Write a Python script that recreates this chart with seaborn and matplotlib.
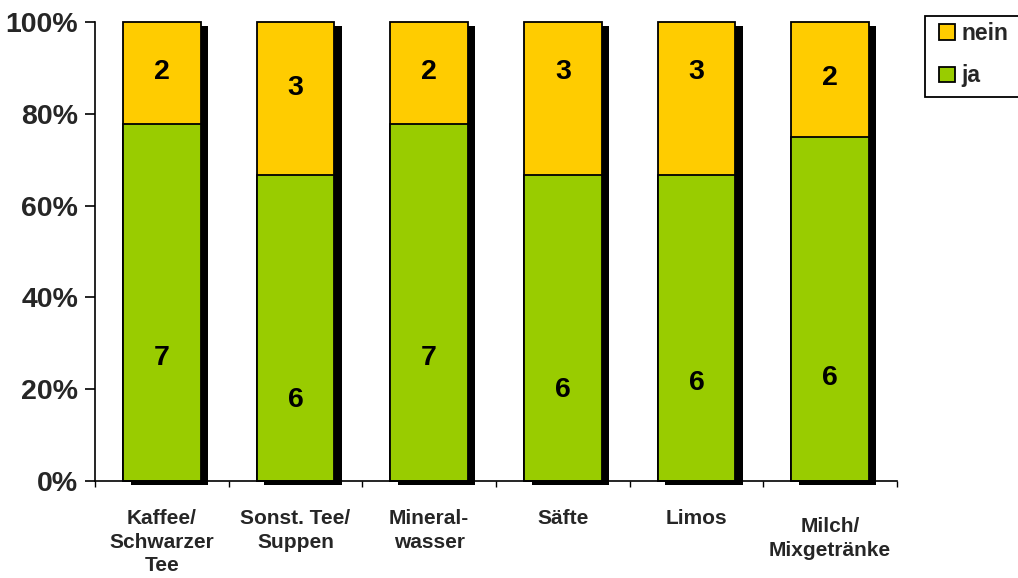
import matplotlib
matplotlib.use("Agg")
import matplotlib.pyplot as plt
import matplotlib.transforms as mtransforms
from matplotlib.patches import Patch, Rectangle
import seaborn as sns
import pandas as pd

categories = ["Kaffee/\nSchwarzer\nTee", "Sonst. Tee/\nSuppen", "Mineral-\nwasser",
              "Säfte", "Limos", "Milch/\nMixgetränke"]
ja = [7, 6, 7, 6, 6, 6]
nein = [2, 3, 2, 3, 3, 2]
yticks = [0, 20, 40, 60, 80, 100]
ytick_labels = ["0%", "20%", "40%", "60%", "80%", "100%"]

# label placement (percent heights)
ja_label_pos = [26.8, 17.6, 26.8, 19.8, 21.4, 22.4]
nein_label_pos = [89.1, 85.6, 89.1, 89.1, 89.1, 87.8]

GREEN = "#99CC00"
YELLOW = "#FFCC00"

sns.set_theme(style="white")
plt.rcParams["font.family"] = ["Liberation Sans", "DejaVu Sans"]
plt.rcParams["font.weight"] = "bold"

totals = [a + b for a, b in zip(ja, nein)]
df = pd.DataFrame({
    "cat": categories,
    "ja_pct": [a / t * 100 for a, t in zip(ja, totals)],
    "total_pct": [100.0] * len(categories),
})

fig = plt.figure(figsize=(10.18, 5.78), dpi=100)
ax = fig.add_axes([95 / 1018, 1 - 481 / 578, (897 - 95) / 1018, (481 - 22) / 578])

W = 0.58
# shadow
sns.barplot(data=df, x="cat", y="total_pct", color="black", width=W, ax=ax,
            saturation=1, edgecolor="black", linewidth=0)
shadow_patches = list(ax.patches)
off = mtransforms.ScaledTranslation(7.5 / 100, -3.5 / 100, fig.dpi_scale_trans)
for p in shadow_patches:
    p.set_transform(ax.transData + off)
    p.set_clip_on(False)
    p.set_zorder(1)
# yellow (nein) full-height
sns.barplot(data=df, x="cat", y="total_pct", color=YELLOW, width=W, ax=ax,
            saturation=1, edgecolor="black", linewidth=1.3)
# green (ja)
sns.barplot(data=df, x="cat", y="ja_pct", color=GREEN, width=W, ax=ax,
            saturation=1, edgecolor="black", linewidth=1.3)
for p in ax.patches[len(shadow_patches):]:
    p.set_zorder(2)
    p.set_clip_on(False)

for i in range(len(categories)):
    ax.text(i, ja_label_pos[i], str(ja[i]), ha="center", va="center",
            fontsize=20.5, fontweight="bold", color="black", zorder=5)
    ax.text(i, nein_label_pos[i], str(nein[i]), ha="center", va="center",
            fontsize=20.5, fontweight="bold", color="black", zorder=5)

ax.set_xlim(-0.5, len(categories) - 0.5)
ax.set_ylim(0, 100)
ax.set_yticks(yticks)
ax.set_yticklabels(ytick_labels, fontsize=20.5, fontweight="bold")
ax.set_xticks(range(len(categories)))
ax.set_xticklabels(categories, fontsize=15, fontweight="bold", linespacing=1.32, va="top")
ax.set_xlabel("")
ax.set_ylabel("")

ax.set_xticks([i - 0.5 for i in range(len(categories) + 1)], minor=True)
ax.tick_params(axis="x", which="major", length=0, pad=20)
ax.tick_params(axis="x", which="minor", length=4, width=1, direction="out", color="black", bottom=True)
ax.tick_params(axis="y", length=7, width=1.2, direction="out", color="black", left=True, pad=5)

for s in ["top", "right"]:
    ax.spines[s].set_visible(False)
for s in ["left", "bottom"]:
    ax.spines[s].set_color("black")
    ax.spines[s].set_linewidth(1.2)
ax.spines["left"].set_zorder(0.5)
ax.grid(False)

# last label sits a bit lower in the reference
lbl = ax.get_xticklabels()[-1]
lbl.set_transform(lbl.get_transform() + mtransforms.ScaledTranslation(0, -8 / 100, fig.dpi_scale_trans))

# legend box (extends past the right edge as in the reference)
fig.patches.append(Rectangle((925 / 1018, 1 - 97 / 578), 110 / 1018, 81 / 578,
                             transform=fig.transFigure, facecolor="white",
                             edgecolor="black", linewidth=1.3, zorder=3))
handles = [Patch(facecolor=YELLOW, edgecolor="black", linewidth=1.3, label="nein"),
           Patch(facecolor=GREEN, edgecolor="black", linewidth=1.3, label="ja")]
leg = fig.legend(handles=handles, loc="upper left", bbox_to_anchor=(939 / 1018, 1 - 22 / 578),
                 frameon=False, prop={"size": 16.5, "weight": "bold"},
                 handlelength=0.68, handleheight=0.68, handletextpad=0.3,
                 labelspacing=0.85, borderpad=0, borderaxespad=0)
leg.set_zorder(4)

fig.savefig("out.png", dpi=100)
